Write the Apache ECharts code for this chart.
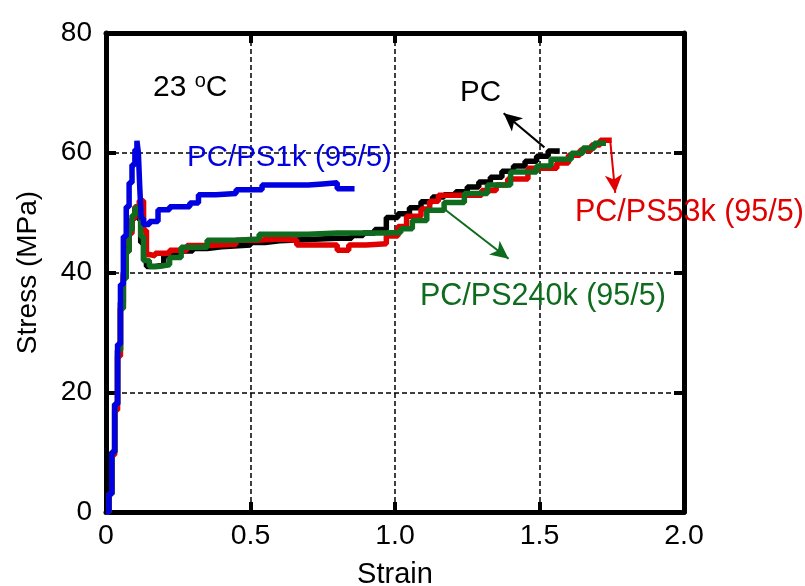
<!DOCTYPE html>
<html>
<head>
<meta charset="utf-8">
<script src="https://cdn.jsdelivr.net/npm/echarts@6/dist/echarts.min.js"></script>
<style>html,body{margin:0;padding:0;background:#fff}#chart{width:805px;height:586px}</style>
</head>
<body>
<div id="chart"></div>
<script>
// ---- data (strain, stress in MPa) ----
const xTicks = [0, 0.5, 1.0, 1.5, 2.0];
const yTicks = [0, 20, 40, 60, 80];

const strainPC = [0, 0.01, 0.02, 0.03, 0.04, 0.05, 0.06, 0.07, 0.08, 0.09, 0.1, 0.11, 0.12, 0.13, 0.14, 0.17, 0.2, 0.25, 0.3, 0.35, 0.4, 0.5, 0.55, 0.6, 0.7, 0.8, 0.85, 0.89, 0.93, 0.97, 1.01, 1.05, 1.09, 1.13, 1.17, 1.21, 1.25, 1.29, 1.33, 1.37, 1.41, 1.45, 1.49, 1.53, 1.57];
const stressPC = [0, 3, 10, 18, 27, 35, 40, 44, 47, 49, 50.5, 49, 45, 42, 41, 41.2, 42.8, 43.6, 44, 44.3, 44.6, 45, 45.3, 45.5, 45.7, 45.7, 46.2, 46.6, 47.2, 49.2, 49.8, 50.8, 51.8, 52.6, 53, 53.5, 54.3, 55.1, 55.9, 56.9, 57.8, 58.6, 59.4, 60.3, 60.4];

const strainPS53k = [0, 0.01, 0.02, 0.03, 0.04, 0.05, 0.06, 0.07, 0.08, 0.09, 0.1, 0.115, 0.13, 0.14, 0.15, 0.17, 0.22, 0.28, 0.35, 0.45, 0.52, 0.6, 0.66, 0.75, 0.8, 0.84, 0.9, 0.97, 1.01, 1.04, 1.09, 1.12, 1.15, 1.22, 1.3, 1.35, 1.39, 1.46, 1.53, 1.56, 1.6, 1.64, 1.68, 1.71, 1.75];
const stressPS53k = [0, 3, 9.5, 17, 26, 34, 39.5, 43.5, 46.5, 49, 51, 52, 47, 43, 42.8, 43.2, 43.7, 44.5, 44.7, 45.4, 45.6, 45.4, 44.6, 44.6, 43.7, 44.6, 44.8, 46.1, 47.7, 49.4, 50.6, 51.9, 52.9, 52.9, 53.7, 54.6, 55.6, 57.4, 57.4, 58.3, 59.6, 60.4, 61.3, 62.1, 62.1];

const strainPS240k = [0, 0.01, 0.02, 0.03, 0.04, 0.05, 0.06, 0.07, 0.08, 0.09, 0.1, 0.11, 0.12, 0.13, 0.15, 0.18, 0.22, 0.26, 0.3, 0.35, 0.45, 0.53, 0.6, 0.7, 0.8, 0.9, 0.96, 1.02, 1.06, 1.11, 1.17, 1.24, 1.32, 1.4, 1.49, 1.54, 1.61, 1.65, 1.69, 1.73];
const stressPS240k = [0, 3, 10, 18, 27, 34, 39, 43.5, 47, 49.5, 50.8, 50.8, 46, 42, 41, 41.3, 42.5, 44.2, 44.2, 45.4, 45.6, 46.4, 46.4, 46.6, 46.6, 46.6, 46.7, 47.3, 48.7, 50.4, 51.7, 53.2, 54.6, 56.8, 57.8, 58.9, 59.9, 60.8, 61.6, 61.6];

const strainPS1k = [0, 0.01, 0.02, 0.03, 0.04, 0.05, 0.06, 0.07, 0.08, 0.09, 0.1, 0.107, 0.112, 0.117, 0.122, 0.13, 0.15, 0.18, 0.22, 0.29, 0.32, 0.38, 0.45, 0.54, 0.6, 0.7, 0.75, 0.8, 0.86];
const stressPS1k = [0, 3, 10, 18, 28, 38, 46, 51, 55, 58, 60.5, 62, 60, 54, 49, 48, 48.5, 50.5, 51, 51.6, 53, 53.2, 53.8, 54.6, 54.6, 54.8, 55, 54, 54];

const seriesNames = ['PC', 'PC/PS53k (95/5)', 'PC/PS240k (95/5)', 'PC/PS1k (95/5)'];
const seriesColors = ['#000000', '#e00000', '#0f6b1e', '#0000e0'];

// annotation arrows: [start strain, start stress, end strain, end stress]
const arrowPC = [1.517, 60.9, 1.376, 66.6];
const arrowPS53k = [1.745, 61.9, 1.762, 53.3];
const arrowPS240k = [1.176, 50.4, 1.393, 42.3];

const FONT = '"Liberation Sans", Arial, Helvetica, sans-serif';

function pairs(xs, ys) { return xs.map((x, i) => [x, ys[i]]); }
function arrow(a, color) {
  return {
    silent: true,
    symbol: ['none', 'arrow'],
    symbolSize: [13, 18],
    label: { show: false },
    lineStyle: { color: color, width: 2, type: 'solid' },
    data: [[{ coord: [a[0], a[1]] }, { coord: [a[2], a[3]] }]]
  };
}

const chart = echarts.init(document.getElementById('chart'), null, { renderer: 'canvas' });

const axisCommon = {
  min: 0,
  axisLine: { show: true, onZero: false, lineStyle: { color: '#000', width: 5 } },
  axisTick: { show: true, inside: true, length: 10, lineStyle: { color: '#000', width: 4 } },
};

const option = {
  animation: false,
  backgroundColor: '#fff',
  grid: { left: 106, top: 33, right: 121, bottom: 74, containLabel: false, outerBoundsMode: 'none' },
  xAxis: [
    Object.assign({}, axisCommon, {
      type: 'value', position: 'bottom', max: 2, interval: 0.5,
      name: 'Strain', nameLocation: 'middle', nameGap: 48,
      nameTextStyle: { fontFamily: FONT, fontSize: 29, color: '#000' },
      axisLabel: { fontFamily: FONT, fontSize: 28.5, color: '#000', margin: 10,
        formatter: v => { const t = xTicks.find(k => Math.abs(k - v) < 1e-9); return t === 0 ? '0' : t.toFixed(1); } },
      splitLine: { show: true, lineStyle: { color: '#000', width: 1.5, type: [5, 3] } }
    }),
    Object.assign({}, axisCommon, {
      type: 'value', position: 'top', max: 2, interval: 0.5,
      axisLabel: { show: false }, splitLine: { show: false }
    })
  ],
  yAxis: [
    Object.assign({}, axisCommon, {
      type: 'value', position: 'left', max: 80, interval: 20,
      name: 'Stress (MPa)', nameLocation: 'middle', nameGap: 64,
      nameTextStyle: { fontFamily: FONT, fontSize: 28, color: '#000' },
      axisLabel: { fontFamily: FONT, fontSize: 28, color: '#000', margin: 14,
        formatter: v => String(yTicks.find(k => Math.abs(k - v) < 1e-9)) },
      splitLine: { show: true, lineStyle: { color: '#000', width: 1.5, type: [5, 3] } }
    }),
    Object.assign({}, axisCommon, {
      type: 'value', position: 'right', max: 80, interval: 20,
      axisLabel: { show: false }, splitLine: { show: false }
    })
  ],
  series: [
    { name: seriesNames[0], type: 'line', step: 'end', showSymbol: false, data: pairs(strainPC, stressPC),
      lineStyle: { color: seriesColors[0], width: 5.5 }, itemStyle: { color: seriesColors[0] },
      markLine: arrow(arrowPC, '#000'), z: 2 },
    { name: seriesNames[1], type: 'line', step: 'end', showSymbol: false, data: pairs(strainPS53k, stressPS53k),
      lineStyle: { color: seriesColors[1], width: 5.5 }, itemStyle: { color: seriesColors[1] },
      markLine: arrow(arrowPS53k, '#e00000'), z: 3 },
    { name: seriesNames[2], type: 'line', step: 'end', showSymbol: false, data: pairs(strainPS240k, stressPS240k),
      lineStyle: { color: seriesColors[2], width: 5.5 }, itemStyle: { color: seriesColors[2] },
      markLine: arrow(arrowPS240k, '#0f6b1e'), z: 4 },
    { name: seriesNames[3], type: 'line', step: 'end', showSymbol: false, data: pairs(strainPS1k, stressPS1k),
      lineStyle: { color: seriesColors[3], width: 5.5 }, itemStyle: { color: seriesColors[3] }, z: 5 }
  ],
  graphic: [
    { type: 'text', left: 153, top: 71, z: 100,
      style: { text: '{a|23 }{s|o}{a|C}', font: '30px ' + FONT, fill: '#000',
        rich: { a: { fontSize: 30, fontFamily: FONT, fill: '#000', verticalAlign: 'bottom', lineHeight: 32 },
                s: { fontSize: 20, fontFamily: FONT, fill: '#000', verticalAlign: 'top', lineHeight: 32 } } } },
    { type: 'text', left: 187, top: 143, z: 100,
      style: { text: 'PC/PS1k (95/5)', font: '29.5px ' + FONT, fill: '#0000e0' } },
    { type: 'text', left: 460, top: 78, z: 100,
      style: { text: 'PC', font: '29.5px ' + FONT, fill: '#000' } },
    { type: 'text', left: 575, top: 197, z: 100,
      style: { text: 'PC/PS53k (95/5)', font: '30.5px ' + FONT, fill: '#e00000' } },
    { type: 'text', left: 420, top: 281, z: 100,
      style: { text: 'PC/PS240k (95/5)', font: '30.5px ' + FONT, fill: '#0f6b1e' } }
  ]
};
chart.setOption(option);
</script>
</body>
</html>
